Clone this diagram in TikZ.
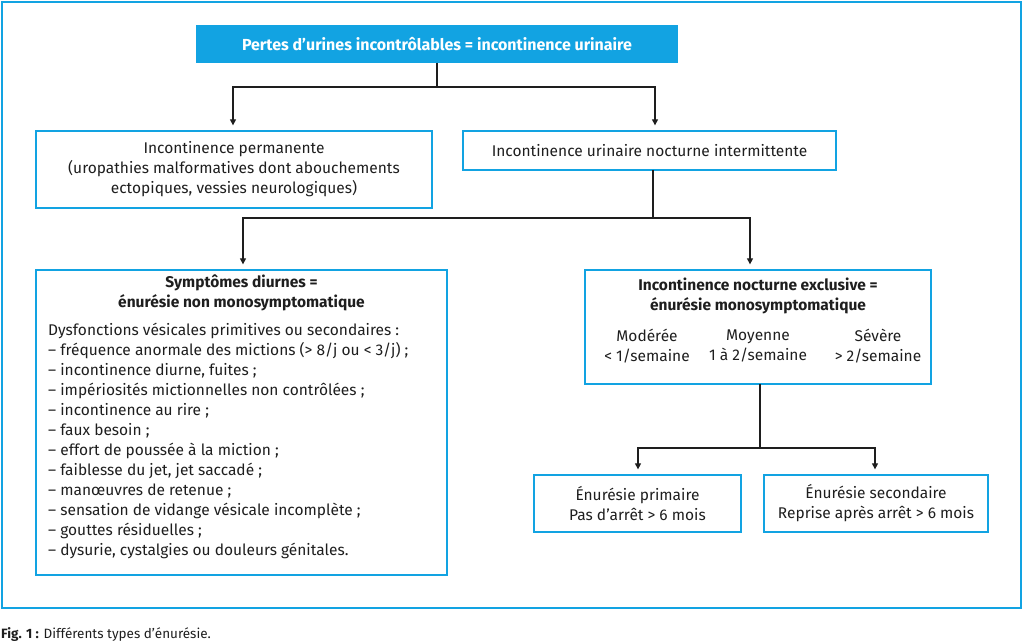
\documentclass[tikz,border=0pt]{standalone}
\usepackage{fontspec}
\setmainfont{Fira Sans}
\usetikzlibrary{arrows.meta}
\definecolor{cy}{HTML}{12A3E2}
\definecolor{ln}{HTML}{1E1E1E}
\begin{document}
\begin{tikzpicture}[x=1pt,y=-1pt,
  box/.style={draw=cy,line width=1.3pt,inner sep=0pt,align=center,font=\fontsize{15.5}{20}\selectfont,text=ln},
  txt/.style={inner sep=0pt,align=center,font=\fontsize{15.5}{20}\selectfont,text=ln},
  conn/.style={draw=ln,line width=1.2pt},
  arr/.style={conn,-{Triangle[width=6pt,length=6pt]},shorten >=5pt}]
\useasboundingbox (0,0) rectangle (1024,644);
\draw[cy,line width=2.5pt] (2,2) rectangle (1021,608);
% top
\node[box,fill=cy,text=white,minimum width=480pt,minimum height=36pt,font=\bfseries\fontsize{16}{18}\selectfont] (top) at (437,44) {Pertes d'urines incontrôlables = incontinence urinaire};
% level 2
\node[box,minimum width=396pt,minimum height=77pt] (perm) at (234,169.5) {Incontinence permanente\\(uropathies malformatives dont abouchements\\ectopiques, vessies neurologiques)};
\node[box,minimum width=373pt,minimum height=39pt] (noct) at (649.5,150.5) {Incontinence urinaire nocturne intermittente};
% level 3
\node[box,minimum width=411pt,minimum height=305pt] (symp) at (241.5,422.5) {};
\node[txt,font=\bfseries\fontsize{15.5}{20}\selectfont] (symph) at (241.5,293) {Symptômes diurnes =\\énurésie non monosymptomatique};
\node[txt,align=left,anchor=north west] (sympl) at (48,323) {Dysfonctions vésicales primitives ou secondaires :\\
– fréquence anormale des mictions (> 8/j ou < 3/j) ;\\
– incontinence diurne, fuites ;\\
– impériosités mictionnelles non contrôlées ;\\
– incontinence au rire ;\\
– faux besoin ;\\
– effort de poussée à la miction ;\\
– faiblesse du jet, jet saccadé ;\\
– manœuvres de retenue ;\\
– sensation de vidange vésicale incomplète ;\\
– gouttes résiduelles ;\\
– dysurie, cystalgies ou douleurs génitales.};
\node[box,minimum width=346pt,minimum height=114pt] (excl) at (758,327) {};
\node[txt,font=\bfseries\fontsize{15.5}{20}\selectfont] (exclh) at (758,296) {Incontinence nocturne exclusive =\\énurésie monosymptomatique};
\node[txt] (mod) at (647,346) {Modérée\\< 1/semaine};
\node[txt] (moy) at (758,346) {Moyenne\\1 à 2/semaine};
\node[txt] (sev) at (878,346) {Sévère\\> 2/semaine};
% level 4
\node[box,minimum width=207pt,minimum height=57pt] (prim) at (637.5,503.5) {Énurésie primaire\\Pas d'arrêt > 6 mois};
\node[box,minimum width=224pt,minimum height=57pt] (sec) at (876,503.5) {Énurésie secondaire\\Reprise après arrêt > 6 mois};
% connectors
\coordinate (j1) at (437,87);
\coordinate (j1l) at (233,87);
\coordinate (j1r) at (655,87);
\draw[conn] (top.south) -- (j1);
\draw[arr] (j1) -- (j1l) -- (j1l |- perm.north);
\draw[arr] (j1) -- (j1r) -- (j1r |- noct.north);
\coordinate (j2t) at (653,170);
\coordinate (j2) at (653,218);
\coordinate (j2l) at (243,218);
\coordinate (j2r) at (750,218);
\draw[conn] (j2t) -- (j2);
\draw[arr] (j2) -- (j2l) -- (j2l |- symp.north);
\draw[arr] (j2) -- (j2r) -- (j2r |- excl.north);
\coordinate (j3t) at (760,384);
\coordinate (j3) at (760,448);
\coordinate (j3l) at (638,448);
\coordinate (j3r) at (875,448);
\draw[conn] (j3t) -- (j3);
\draw[arr] (j3) -- (j3l) -- (j3l |- prim.north);
\draw[arr] (j3) -- (j3r) -- (j3r |- sec.north);
% caption
\node[inner sep=0pt,anchor=west,font=\fontsize{13.5}{15}\selectfont,text=ln] (cap) at (1,635) {\textbf{Fig. 1 :} Différents types d'énurésie.};
\end{tikzpicture}
\end{document}
